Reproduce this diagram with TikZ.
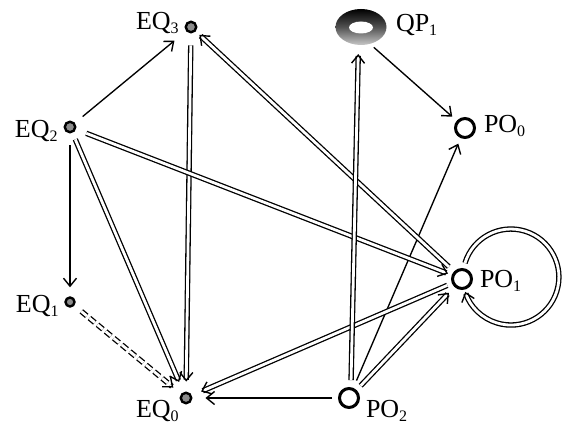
\documentclass[tikz,border=0pt]{standalone}
\usepackage{fontspec}
\setmainfont{Liberation Serif}
\usetikzlibrary{arrows.meta,shapes.geometric}
\newcommand{\lbl}[2]{{\fontsize{26}{26}\selectfont #1\raisebox{-4pt}{\fontsize{16}{16}\selectfont #2}}}
\tikzset{
  x=1pt,y=1pt,
  eqdot/.style={circle,draw=black,fill=black!45,line width=2.4pt,minimum size=10.5pt,inner sep=0pt},
  podot/.style={circle,draw=black,fill=white,line width=3pt,minimum size=19pt,inner sep=0pt},
  lab/.style={anchor=base west,inner sep=0pt,outer sep=0pt},
  tip/.tip={Straight Barb[length=8pt,width=13pt,line width=1.4pt]},
  single/.style={line width=1.35pt,-{tip}},
  twin/.style={line width=1.3pt,double=white,double distance=2.8pt,-{tip}},
  twindash/.style={twin,dash pattern=on 7pt off 3.5pt},
}
\begin{document}
\begin{tikzpicture}
\useasboundingbox (0,0) rectangle (563,424);
\node[eqdot] (EQ3) at (191,397) {};
\node[eqdot] (EQ2) at (70,297) {};
\node[eqdot,minimum size=9pt] (EQ1) at (70,122) {};
\node[eqdot] (EQ0) at (186,26) {};
\node[ellipse,minimum width=51pt,minimum height=36pt,inner sep=0pt,top color=black,bottom color=black!22,middle color=black!68] (QP1) at (361,397) {};
\node[ellipse,fill=white,minimum width=24pt,minimum height=12pt,inner sep=0pt] (QPhole) at (361,396.5) {};
\node[podot] (PO0) at (465,296) {};
\node[podot] (PO1) at (462,145) {};
\node[podot] (PO2) at (349,26) {};
\node[lab] (tEQ3) at (136,394) {\lbl{EQ}{3}};
\node[lab] (tEQ2) at (15,286) {\lbl{EQ}{2}};
\node[lab] (tEQ1) at (16,112) {\lbl{EQ}{1}};
\node[lab] (tEQ0) at (136,7) {\lbl{EQ}{0}};
\node[lab] (tQP1) at (396,392) {\lbl{QP}{1}};
\node[lab] (tPO0) at (484,291) {\lbl{PO}{0}};
\node[lab] (tPO1) at (480,137) {\lbl{PO}{1}};
\node[lab] (tPO2) at (366,7) {\lbl{PO}{2}};
% single
\draw[single,shorten <=10pt,shorten >=15pt] (EQ2) -- (EQ3);
\draw[single,shorten <=12pt,shorten >=9pt] (EQ2) -- (EQ1);
\draw[single,shorten <=6pt,shorten >=13pt] (PO2) -- (EQ0);
\draw[single,shorten <=8pt,shorten >=6pt] (PO2) -- (PO0);
\draw[single,shorten <=5pt,shorten >=6pt] (QP1.-62) -- (PO0);
% double
\draw[twin,shorten <=12pt,shorten >=10pt] (EQ3) -- (EQ0);
\draw[twin,shorten <=11pt,shorten >=4pt] (EQ2) -- (PO1);
\draw[twin,shorten <=7pt,shorten >=11pt] (EQ2) -- (EQ0);
\draw[twindash,shorten <=9pt,shorten >=10pt] (EQ1) -- (EQ0);
\draw[twin,shorten <=5pt,shorten >=10pt] (PO1) -- (EQ0);
\draw[twin,shorten <=7pt,shorten >=5pt] (PO1) -- (EQ3);
\draw[twin,shorten <=6pt,shorten >=8pt] (PO2) -- (PO1);
\draw[twin,shorten <=7pt,shorten >=9pt] (PO2.80) -- (QP1.262);
\coordinate (loopstart) at (465,161);
\draw[twin] (loopstart) arc[start angle=163,end angle=-162,radius=48];
\end{tikzpicture}
\end{document}
